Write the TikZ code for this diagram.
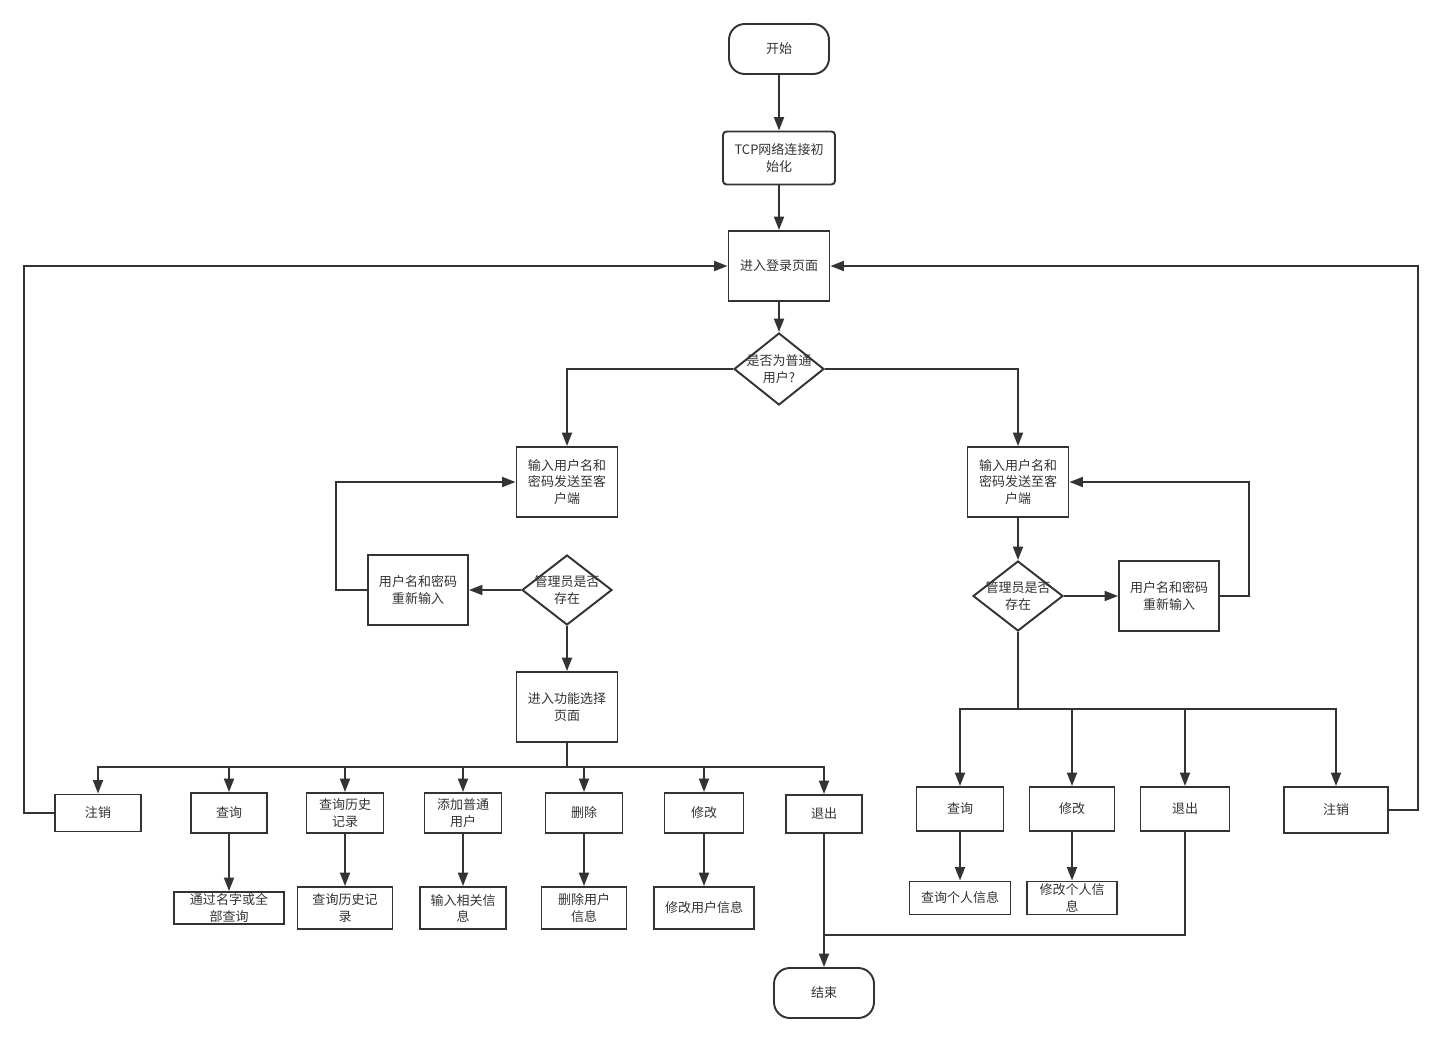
\documentclass[tikz,border=0pt]{standalone}
\usepackage{fontspec}
\usepackage{tikz}
\usetikzlibrary{shapes.geometric,arrows.meta}
\newfontfamily\cjk{Noto Sans CJK SC}
\definecolor{ink}{HTML}{333333}

\begin{document}
\begin{tikzpicture}[x=0.02cm, y=-0.02cm, line width=1.1pt, draw=ink,
    >={Triangle[length=0.27cm, width=0.2cm]},
    every node/.style={font=\cjk\fontsize{7.4pt}{9.2pt}\selectfont, text=ink, align=center, inner sep=0pt},
    term/.style={shape=rectangle, rounded corners=9pt, draw, minimum width=2cm, minimum height=1cm},
    box/.style={shape=rectangle, draw, minimum width=2.02cm, minimum height=1.4cm},
    decision/.style={shape=diamond, draw, minimum width=1.8cm, minimum height=1.4cm}]
\useasboundingbox (0, 0) rectangle (1441, 1042);
\node at (779, 49) [term] (start) {开始};
\node at (779, 158) [box, rounded corners=2pt, minimum width=2.24cm, minimum height=1.06cm] (tcp) {TCP网络连接初\\始化};
\node at (779, 266) [box] (login) {进入登录页面};
\node at (779, 369) [decision, minimum height=1.44cm, label={[align=center]center:{是否为普通\\用户?}}] (dec1) {};
\node at (567, 482) [box] (inL) {输入用户名和\\密码发送至客\\户端};
\node at (1018, 482) [box] (inR) {输入用户名和\\密码发送至客\\户端};
\node at (567, 590) [decision, label={[align=center]center:{管理员是否\\存在}}] (decL) {};
\node at (1018, 596) [decision, label={[align=center]center:{管理员是否\\存在}}] (decR) {};
\node at (418, 590) [box, minimum width=2cm] (retryL) {用户名和密码\\重新输入};
\node at (1169, 596) [box, minimum width=2cm] (retryR) {用户名和密码\\重新输入};
\node at (567, 707) [box] (func) {进入功能选择\\页面};
% left function row
\node at (98, 813) [box, minimum width=1.72cm, minimum height=0.74cm] (zxL) {注销};
\node at (229, 813) [box, minimum width=1.52cm, minimum height=0.8cm] (cxL) {查询};
\node at (345, 813) [box, minimum width=1.54cm, minimum height=0.8cm] (lsL) {查询历史\\记录};
\node at (463, 813) [box, minimum width=1.54cm, minimum height=0.8cm] (tjL) {添加普通\\用户};
\node at (584, 813) [box, minimum width=1.54cm, minimum height=0.8cm] (scL) {删除};
\node at (704, 813) [box, minimum width=1.58cm, minimum height=0.8cm] (xgL) {修改};
\node at (824, 814) [box, minimum width=1.52cm, minimum height=0.76cm] (tcL) {退出};
\node at (229, 908) [box, minimum width=2.2cm, minimum height=0.64cm] (cxL2) {通过名字或全\\部查询};
\node at (345, 908) [box, minimum width=1.9cm, minimum height=0.84cm] (lsL2) {查询历史记\\录};
\node at (463, 908) [box, minimum width=1.72cm, minimum height=0.84cm] (tjL2) {输入相关信\\息};
\node at (584, 908) [box, minimum width=1.7cm, minimum height=0.84cm] (scL2) {删除用户\\信息};
\node at (704, 908) [box, minimum width=2cm, minimum height=0.84cm] (xgL2) {修改用户信息};
% right function row
\node at (960, 809) [box, minimum width=1.74cm, minimum height=0.88cm] (cxR) {查询};
\node at (1072, 809) [box, minimum width=1.7cm, minimum height=0.88cm] (xgR) {修改};
\node at (1185, 809) [box, minimum width=1.78cm, minimum height=0.88cm] (tcR) {退出};
\node at (1336, 810) [box, minimum width=2.08cm, minimum height=0.92cm] (zxR) {注销};
\node at (960, 898) [box, minimum width=2.02cm, minimum height=0.66cm] (cxR2) {查询个人信息};
\node at (1072, 898) [box, minimum width=1.8cm, minimum height=0.66cm] (xgR2) {修改个人信\\息};
\node at (824, 993) [term] (finish) {结束};
\coordinate (busL) at (567, 767);
\coordinate (busR) at (1018, 709);
\coordinate (join) at (824, 935);
\draw [->] (start) to (tcp);
\draw [->] (tcp) to (login);
\draw [->] (login) to (dec1);
\draw [->] (dec1) -| (inL);
\draw [->] (dec1) -| (inR);
\draw [->] (decL) to (retryL);
\draw [->] (retryL.west) -- ++(-31, 0) |- (inL.west);
\draw [->] (decL) to (func);
\draw [->] (inR) to (decR);
\draw [->] (decR) to (retryR);
\draw [->] (retryR.east) -- ++(29, 0) |- (inR.east);
\draw (func) to (busL);
\draw [->] (busL) -| (zxL);
\draw [->] (busL) -| (cxL);
\draw [->] (busL) -| (lsL);
\draw [->] (busL) -| (tjL);
\draw [->] (busL) -| (scL);
\draw [->] (busL) -| (xgL);
\draw [->] (busL) -| (tcL);
\draw [->] (cxL) to (cxL2);
\draw [->] (lsL) to (lsL2);
\draw [->] (tjL) to (tjL2);
\draw [->] (scL) to (scL2);
\draw [->] (xgL) to (xgL2);
\draw [->] (zxL.west) -- ++(-30, 0) |- (login.west);
\draw (decR) to (busR);
\draw [->] (busR) -| (cxR);
\draw [->] (busR) -| (xgR);
\draw [->] (busR) -| (tcR);
\draw [->] (busR) -| (zxR);
\draw [->] (cxR) to (cxR2);
\draw [->] (xgR) to (xgR2);
\draw [->] (zxR.east) -- ++(29, 0) |- (login.east);
\draw (tcR) |- (join);
\draw [->] (tcL) to (finish);
\end{tikzpicture}
\end{document}
